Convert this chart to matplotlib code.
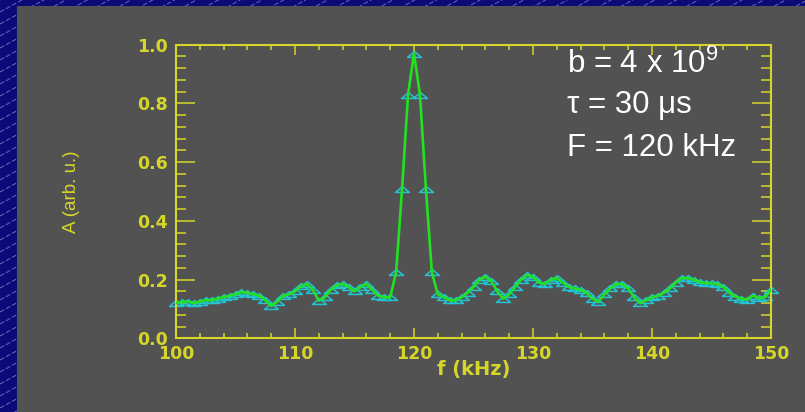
import numpy as np
import matplotlib
matplotlib.use("Agg")
import matplotlib.pyplot as plt
from matplotlib.lines import Line2D
from matplotlib.patches import Rectangle
from matplotlib.path import Path
from matplotlib.transforms import Affine2D

# Spectrum amplitude sampled every 0.5 kHz from 100 to 150 kHz
freq_start, freq_stop, freq_step = 100.0, 150.0, 0.5
amplitude = [
    0.120, 0.125, 0.125, 0.120, 0.125, 0.130, 0.130, 0.135, 0.140, 0.145,   # 100 - 104.5
    0.150, 0.158, 0.155, 0.150, 0.145, 0.130, 0.110, 0.125, 0.145, 0.150,   # 105 - 109.5
    0.160, 0.178, 0.185, 0.165, 0.128, 0.140, 0.165, 0.180, 0.185, 0.175,   # 110 - 114.5
    0.160, 0.175, 0.185, 0.165, 0.145, 0.140, 0.140, 0.225, 0.510, 0.830,   # 115 - 119.5
    0.970, 0.830, 0.510, 0.225, 0.150, 0.140, 0.130, 0.130, 0.140, 0.155,   # 120 - 124.5
    0.175, 0.200, 0.210, 0.195, 0.160, 0.135, 0.150, 0.175, 0.200, 0.215,   # 125 - 129.5
    0.210, 0.190, 0.185, 0.200, 0.205, 0.190, 0.175, 0.170, 0.165, 0.155,   # 130 - 134.5
    0.135, 0.125, 0.150, 0.170, 0.185, 0.185, 0.170, 0.140, 0.120, 0.130,   # 135 - 139.5
    0.140, 0.145, 0.155, 0.170, 0.190, 0.205, 0.205, 0.200, 0.192, 0.188,   # 140 - 144.5
    0.187, 0.185, 0.175, 0.155, 0.142, 0.135, 0.132, 0.145, 0.137, 0.140,   # 145 - 149.5
    0.165,                                                                  # 150
]
freq = np.arange(freq_start, freq_stop + freq_step / 2, freq_step)

x_ticks = [100, 110, 120, 130, 140, 150]
y_ticks = [0.0, 0.2, 0.4, 0.6, 0.8, 1.0]
x_label = "f (kHz)"
y_label = "A (arb. u.)"
param_lines = ["b = 4 x 10$^{9}$", "\u03c4 = 30 \u03bcs", "F = 120 kHz"]

W, H = 805, 412
NAVY = "#0a0a78"
PANEL = "#525252"
YELLOW = "#d6d62a"
GREEN = "#22e022"
CYAN = "#22c4d4"

plt.rcParams["mathtext.fontset"] = "custom"
plt.rcParams["mathtext.rm"] = "Liberation Sans"
plt.rcParams["mathtext.it"] = "Liberation Sans"

fig = plt.figure(figsize=(W / 100, H / 100), dpi=100)
fig.patch.set_facecolor(NAVY)

# Pixel-space transform for the slide background
px = Affine2D().scale(1 / W, 1 / H) + fig.transFigure

# Diagonal hatching on the navy border
for c in np.arange(-500, H + 20, 12):
    xs = np.array([0, W])
    ys = 0.55 * xs + c
    fig.add_artist(Line2D(xs, ys, transform=px, color="#a8a8e8", lw=0.7,
                          alpha=0.6, linestyle=(0, (5, 2)), zorder=-3))

# Grey slide panel
fig.add_artist(Rectangle((17, 0), W - 17, H - 6, transform=px,
                         facecolor=PANEL, edgecolor="none", zorder=-2))

ax = fig.add_axes([176 / W, 1 - 338.3 / H, (771 - 176) / W, (338.3 - 44.7) / H])
ax.set_facecolor("none")

# Flattened triangle marker
tri = Path([(-1.0, -0.42), (1.0, -0.42), (0.0, 0.42), (-1.0, -0.42)],
           [Path.MOVETO, Path.LINETO, Path.LINETO, Path.CLOSEPOLY])

ax.plot(freq, amplitude, linestyle="none", marker=tri, markersize=10,
        markerfacecolor="none", markeredgecolor=CYAN, markeredgewidth=1.1,
        zorder=2, clip_on=False)
ax.plot(freq, amplitude, color=GREEN, lw=1.9, zorder=3)

ax.set_xlim(100, 150)
ax.set_ylim(0, 1.0)
ax.set_xticks(x_ticks)
ax.set_yticks(y_ticks)
ax.set_xticklabels([str(v) for v in x_ticks])
ax.set_yticklabels([f"{v:.1f}" for v in y_ticks])
ax.set_xticks(np.arange(100, 150.01, 2), minor=True)
ax.set_yticks(np.arange(0, 1.001, 0.04), minor=True)

for s in ax.spines.values():
    s.set_color(YELLOW)
    s.set_linewidth(1.5)

ax.tick_params(axis="both", which="both", direction="in", color=YELLOW,
               top=True, right=True, width=1.1)
ax.tick_params(axis="x", which="major", length=7.5, pad=5)
ax.tick_params(axis="x", which="minor", length=3.8)
ax.tick_params(axis="y", which="major", length=14, pad=6)
ax.tick_params(axis="y", which="minor", length=7)

for lab in ax.get_xticklabels() + ax.get_yticklabels():
    lab.set_color(YELLOW)
    lab.set_fontfamily("DejaVu Sans")
    lab.set_fontweight("bold")
    lab.set_fontsize(12.5)

ax.set_xlabel(x_label, color=YELLOW, fontsize=14, fontweight="bold",
              fontfamily="DejaVu Sans")
ax.xaxis.set_label_coords(0.5, -0.075)
ax.set_ylabel(y_label, color=YELLOW, fontsize=13.5, fontfamily="Liberation Sans")
ax.yaxis.set_label_coords(-0.162, 0.5)

# Simulation parameters
baselines = [72.7, 113.3, 156.0]
for text, yb in zip(param_lines, baselines):
    fig.text(567 / W, 1 - yb / H, text, color="white", fontsize=22.5,
             fontfamily="Liberation Sans", ha="left", va="baseline")

fig.savefig("out.png", dpi=100, facecolor=fig.get_facecolor())
